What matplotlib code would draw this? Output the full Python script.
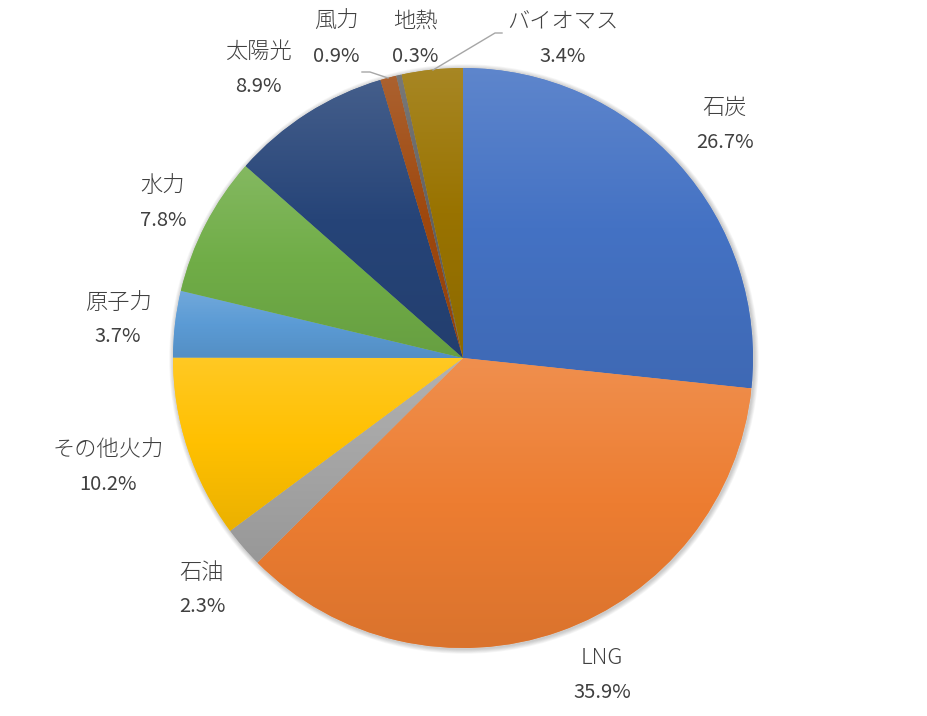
import numpy as np
import matplotlib
matplotlib.use("Agg")
import matplotlib.pyplot as plt
from matplotlib.colors import LinearSegmentedColormap, to_rgb
from matplotlib.patches import Circle

plt.rcParams["font.family"] = ["Noto Sans CJK JP", "DejaVu Sans"]

# Datos del gráfico
categorias = ["石炭", "LNG", "石油", "その他火力", "原子力", "水力",
              "太陽光", "風力", "地熱", "バイオマス"]
porcentajes = [26.7, 35.9, 2.3, 10.2, 3.7, 7.8, 8.9, 0.9, 0.3, 3.4]
colores = ["#4472C4", "#ED7D31", "#A5A5A5", "#FFC000", "#5B9BD5",
           "#70AD47", "#264478", "#9E480E", "#636363", "#997300"]

# posiciones de las etiquetas (pixeles, centro del bloque de texto)
pos_etiquetas = [(725, 125), (602, 675), (202, 590), (108, 467), (118, 320),
                 (163, 203), (258, 69), (336, 39), (415, 39), (563, 39)]

W, H = 927, 716
cx, cy, r = 463, H - 358, 290

fig = plt.figure(figsize=(W / 100, H / 100), dpi=100)
ax = fig.add_axes([0, 0, 1, 1])

# sombra suave alrededor del círculo
for k in range(6, 0, -1):
    ax.add_patch(Circle((cx + 1, cy - 1), r + k * 0.8, color="black",
                        alpha=0.035, lw=0, zorder=0))

wedges, _ = ax.pie(porcentajes, colors=colores, startangle=90,
                   counterclock=False, center=(cx, cy), radius=r,
                   wedgeprops=dict(linewidth=0.4, edgecolor="#ffffff40"))


def mezclar(c, otro, t):
    c = np.array(to_rgb(c))
    return tuple(c + (np.array(otro) - c) * t)


# relleno degradado (más claro arriba, más oscuro abajo) en cada sector
grad = np.linspace(0, 1, 256).reshape(-1, 1)
for w, c in zip(wedges, colores):
    bb = w.get_path().transformed(w.get_patch_transform()).get_extents()
    cmap = LinearSegmentedColormap.from_list(
        "g", [mezclar(c, (1, 1, 1), 0.14), to_rgb(c), mezclar(c, (0, 0, 0), 0.08)])
    im = ax.imshow(grad, cmap=cmap, aspect="auto", origin="upper",
                   extent=(bb.x0, bb.x1, bb.y0, bb.y1), zorder=1.5,
                   interpolation="bilinear")
    im.set_clip_path(w)

# etiquetas
for nombre, p, (x, y) in zip(categorias, porcentajes, pos_etiquetas):
    ax.text(x, H - y + 17, nombre, ha="center", va="center",
            fontsize=16, fontweight="light", color="#404040", zorder=5)
    ax.text(x, H - y - 17, f"{p:.1f}%", ha="center", va="center",
            fontsize=14.5, color="#404040", zorder=5)

# líneas guía para los sectores pequeños
ax.plot([362, 370, 388], [H - 72, H - 72, H - 78], color="#a6a6a6", lw=1, zorder=4)
ax.plot([502, 495, 433], [H - 33, H - 33, H - 70], color="#a6a6a6", lw=1, zorder=4)

ax.set_xlim(0, W)
ax.set_ylim(0, H)
ax.set_aspect("equal")
ax.axis("off")

plt.savefig("out.png", dpi=100, facecolor="white")
